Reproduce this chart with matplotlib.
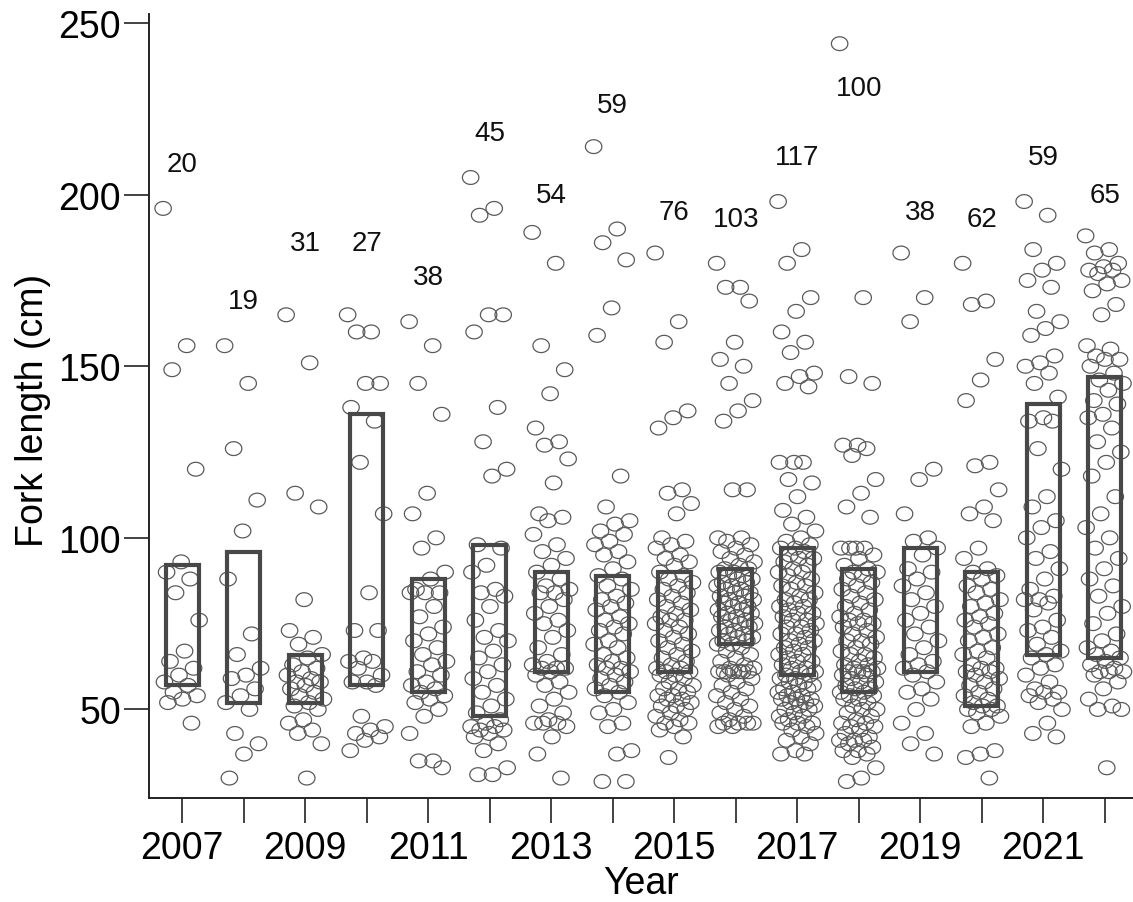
import numpy as np
import matplotlib
matplotlib.use("Agg")
import matplotlib.pyplot as plt
from matplotlib.patches import Rectangle
from matplotlib.path import Path

plt.rcParams["font.family"] = ["Liberation Sans", "DejaVu Sans"]

# Fork lengths (cm) of individual fish by sampling year
fl_2007 = [196, 156, 149, 120, 93, 90, 88, 84, 76, 67, 64, 62, 60, 58, 57, 55,
           54, 53, 52, 46]
fl_2008 = [156, 145, 126, 111, 102, 88, 72, 66, 62, 60, 59, 56, 54, 52, 50, 43,
           40, 37, 30]
fl_2009 = [165, 151, 113, 109, 82, 73, 71, 69, 66, 65, 63, 62, 61, 60, 59, 58,
           58, 57, 56, 55, 54, 53, 52, 51, 50, 47, 46, 44, 43, 40, 30]
fl_2010 = [165, 160, 160, 145, 145, 138, 134, 122, 107, 84, 73, 73, 65, 64, 64,
           62, 60, 58, 58, 57, 48, 45, 44, 43, 42, 41, 38]
fl_2011 = [163, 156, 145, 136, 113, 107, 100, 97, 90, 88, 85, 84, 84, 84, 80,
           77, 74, 72, 70, 68, 66, 64, 63, 61, 60, 58, 57, 56, 55, 54, 53, 52,
           50, 48, 43, 35, 35, 33]
fl_2012 = [205, 196, 194, 165, 165, 160, 138, 128, 120, 118, 98, 97, 92, 90,
           85, 84, 83, 80, 76, 73, 71, 70, 67, 65, 63, 61, 59, 57, 55, 53, 51,
           49, 47, 46, 45, 45, 44, 44, 43, 42, 40, 38, 33, 31, 31]
fl_2013 = [189, 180, 156, 149, 142, 132, 128, 127, 123, 116, 107, 106, 105,
           101, 98, 96, 94, 92, 90, 88, 86, 85, 84, 84, 82, 80, 78, 76, 75, 73,
           71, 68, 66, 64, 63, 62, 62, 62, 61, 60, 58, 57, 55, 53, 51, 49, 47,
           46, 46, 46, 45, 42, 37, 30]
fl_2014 = [214, 190, 186, 181, 167, 159, 118, 109, 105, 104, 102, 101, 99, 98,
           96, 95, 93, 91, 89, 88, 86, 85, 83, 82, 81, 80, 79, 77, 76, 75, 74,
           73, 72, 70, 69, 68, 66, 65, 64, 63, 62, 62, 61, 60, 59, 58, 57, 56,
           55, 54, 52, 50, 49, 46, 45, 38, 37, 29, 29]
fl_2015 = [183, 163, 157, 137, 135, 132, 114, 113, 110, 107, 100, 99, 98, 97,
           95, 94, 93, 92, 90, 89, 88, 87, 86, 85, 84, 83, 82, 81, 80, 79, 78,
           77, 76, 76, 75, 74, 73, 72, 71, 70, 69, 68, 67, 66, 65, 64, 63, 62,
           62, 61, 61, 60, 60, 59, 58, 57, 56, 56, 55, 54, 54, 53, 53, 52, 51,
           51, 50, 49, 48, 47, 46, 46, 45, 44, 42, 36]
fl_2016 = [180, 173, 173, 169, 157, 152, 150, 145, 140, 137, 134, 114, 114,
           100, 100, 99, 98, 97, 96, 95, 94, 93, 92, 91, 91, 90, 90, 89, 89, 88,
           88, 87, 87, 86, 86, 85, 85, 84, 84, 83, 83, 82, 82, 81, 81, 80, 80,
           79, 79, 78, 78, 77, 77, 76, 76, 75, 75, 74, 74, 73, 73, 72, 72, 71,
           71, 70, 70, 69, 69, 68, 67, 66, 65, 64, 63, 62, 62, 61, 61, 61, 61,
           61, 61, 60, 59, 58, 57, 56, 55, 54, 53, 52, 51, 50, 49, 48, 47, 46,
           46, 46, 46, 45, 45]
fl_2017 = [198, 184, 180, 170, 166, 160, 157, 154, 148, 147, 145, 144, 122,
           122, 122, 117, 116, 112, 108, 106, 104, 102, 100, 99, 98, 97, 97, 96,
           95, 94, 94, 93, 92, 91, 90, 90, 89, 88, 87, 86, 86, 85, 84, 83, 82,
           82, 81, 80, 80, 79, 78, 78, 77, 76, 76, 75, 74, 74, 73, 72, 72, 71,
           70, 70, 69, 68, 68, 67, 66, 66, 65, 64, 64, 63, 62, 62, 61, 61, 60,
           60, 59, 59, 58, 58, 57, 57, 56, 56, 55, 55, 54, 54, 53, 53, 53, 52,
           52, 51, 51, 50, 50, 49, 48, 48, 47, 46, 46, 46, 45, 44, 43, 42, 41,
           40, 38, 37, 37]
fl_2018 = [244, 170, 147, 145, 127, 127, 126, 124, 117, 113, 109, 106, 97, 97,
           97, 97, 95, 94, 92, 91, 90, 90, 89, 88, 87, 86, 85, 84, 83, 82, 81,
           80, 79, 78, 77, 76, 76, 75, 75, 74, 73, 72, 71, 70, 70, 69, 68, 67,
           66, 66, 65, 64, 63, 63, 62, 62, 61, 61, 61, 61, 60, 60, 59, 58, 58,
           57, 56, 56, 55, 55, 54, 54, 53, 53, 52, 51, 50, 50, 49, 48, 47, 46,
           46, 45, 45, 44, 43, 42, 41, 41, 41, 40, 39, 38, 38, 37, 36, 33, 30,
           29]
fl_2019 = [183, 170, 163, 120, 117, 107, 100, 99, 97, 95, 91, 90, 88, 86, 84,
           82, 80, 78, 76, 74, 72, 70, 68, 66, 64, 63, 62, 61, 60, 58, 56, 55,
           53, 50, 46, 43, 40, 37]
fl_2020 = [180, 169, 168, 152, 146, 140, 122, 121, 114, 109, 107, 105, 97, 94,
           91, 90, 89, 88, 86, 85, 84, 82, 81, 80, 78, 77, 76, 75, 74, 72, 71,
           70, 68, 67, 66, 65, 63, 62, 62, 61, 61, 60, 59, 58, 57, 56, 55, 54,
           53, 52, 51, 51, 50, 50, 49, 48, 46, 45, 38, 37, 36, 30]
fl_2021 = [198, 194, 184, 180, 178, 175, 173, 166, 163, 161, 159, 153, 151,
           150, 148, 145, 141, 135, 134, 134, 126, 120, 112, 109, 105, 103, 100,
           96, 94, 91, 88, 85, 83, 82, 82, 81, 79, 76, 74, 73, 71, 69, 67, 66,
           65, 63, 62, 60, 58, 56, 55, 55, 54, 53, 52, 50, 46, 43, 42]
fl_2022 = [188, 184, 183, 180, 179, 178, 178, 177, 175, 174, 172, 168, 165,
           156, 155, 153, 152, 152, 150, 148, 146, 145, 143, 140, 139, 136, 135,
           132, 128, 125, 122, 118, 112, 107, 103, 100, 97, 94, 91, 88, 86, 83,
           80, 78, 75, 72, 70, 68, 67, 66, 65, 64, 63, 62, 61, 61, 61, 60, 58,
           56, 53, 51, 50, 50, 33]

years = list(range(2007, 2023))
lengths = [fl_2007, fl_2008, fl_2009, fl_2010, fl_2011, fl_2012, fl_2013,
           fl_2014, fl_2015, fl_2016, fl_2017, fl_2018, fl_2019, fl_2020,
           fl_2021, fl_2022]

# interquartile boxes (cm)
box_low = [57, 52, 52, 57, 55, 48, 61, 55, 61, 69, 60, 55, 61, 51, 66, 65]
box_high = [92, 96, 66, 136, 88, 98, 90, 89, 90, 91, 97, 91, 97, 90, 139, 147]

# height (cm) at which each sample-size label sits
label_y = [209, 169, 186, 186, 176, 218, 200, 226, 195, 193, 211, 231, 195,
           193, 211, 200]

fig = plt.figure(figsize=(11.33, 9.03), dpi=100)
ax = fig.add_axes([0.1315, 0.1152, 0.8685, 0.868])

# slightly flattened open circle
t = np.linspace(0, 2 * np.pi, 64)
oval = Path(np.column_stack([np.cos(t), 0.84 * np.sin(t)]))

box_w = 0.54
for yr, vals, lo, hi, ly in zip(years, lengths, box_low, box_high, label_y):
    n = len(vals)
    jit = ((np.arange(n) * 0.618034) % 1.0 - 0.5) * 0.62
    ax.scatter(yr + jit, vals, s=140, marker=oval, facecolors="none",
               edgecolors="#5a5a5a", linewidths=0.9, zorder=2)
    ax.add_patch(Rectangle((yr - box_w / 2, lo), box_w, hi - lo, fill=False,
                           edgecolor="#484848", linewidth=3.0, zorder=3))
    ax.text(yr, ly, str(n), ha="center", va="center", fontsize=20,
            color="#111111", zorder=4)

ax.set_xlim(2006.46, 2022.46)
ax.set_ylim(24.2, 252.6)
ax.set_xticks(years)
ax.set_xticklabels([str(y) if y % 2 == 1 else "" for y in years])
ax.set_yticks([50, 100, 150, 200, 250])
ax.tick_params(axis="both", direction="out", length=18, width=1.2,
               labelsize=27, colors="#222222", labelcolor="black")
ax.tick_params(axis="x", pad=5)
ax.tick_params(axis="y", pad=2)
for side in ("top", "right"):
    ax.spines[side].set_visible(False)
for side in ("left", "bottom"):
    ax.spines[side].set_linewidth(1.4)
    ax.spines[side].set_color("#222222")

fig.text(641 / 1133, 1 - 884 / 903, "Year", ha="center", va="center",
         fontsize=27)
fig.text(33 / 1133, 1 - 410 / 903, "Fork length (cm)", ha="center",
         va="center", rotation=90, fontsize=27)

fig.savefig("out.png", dpi=100)
